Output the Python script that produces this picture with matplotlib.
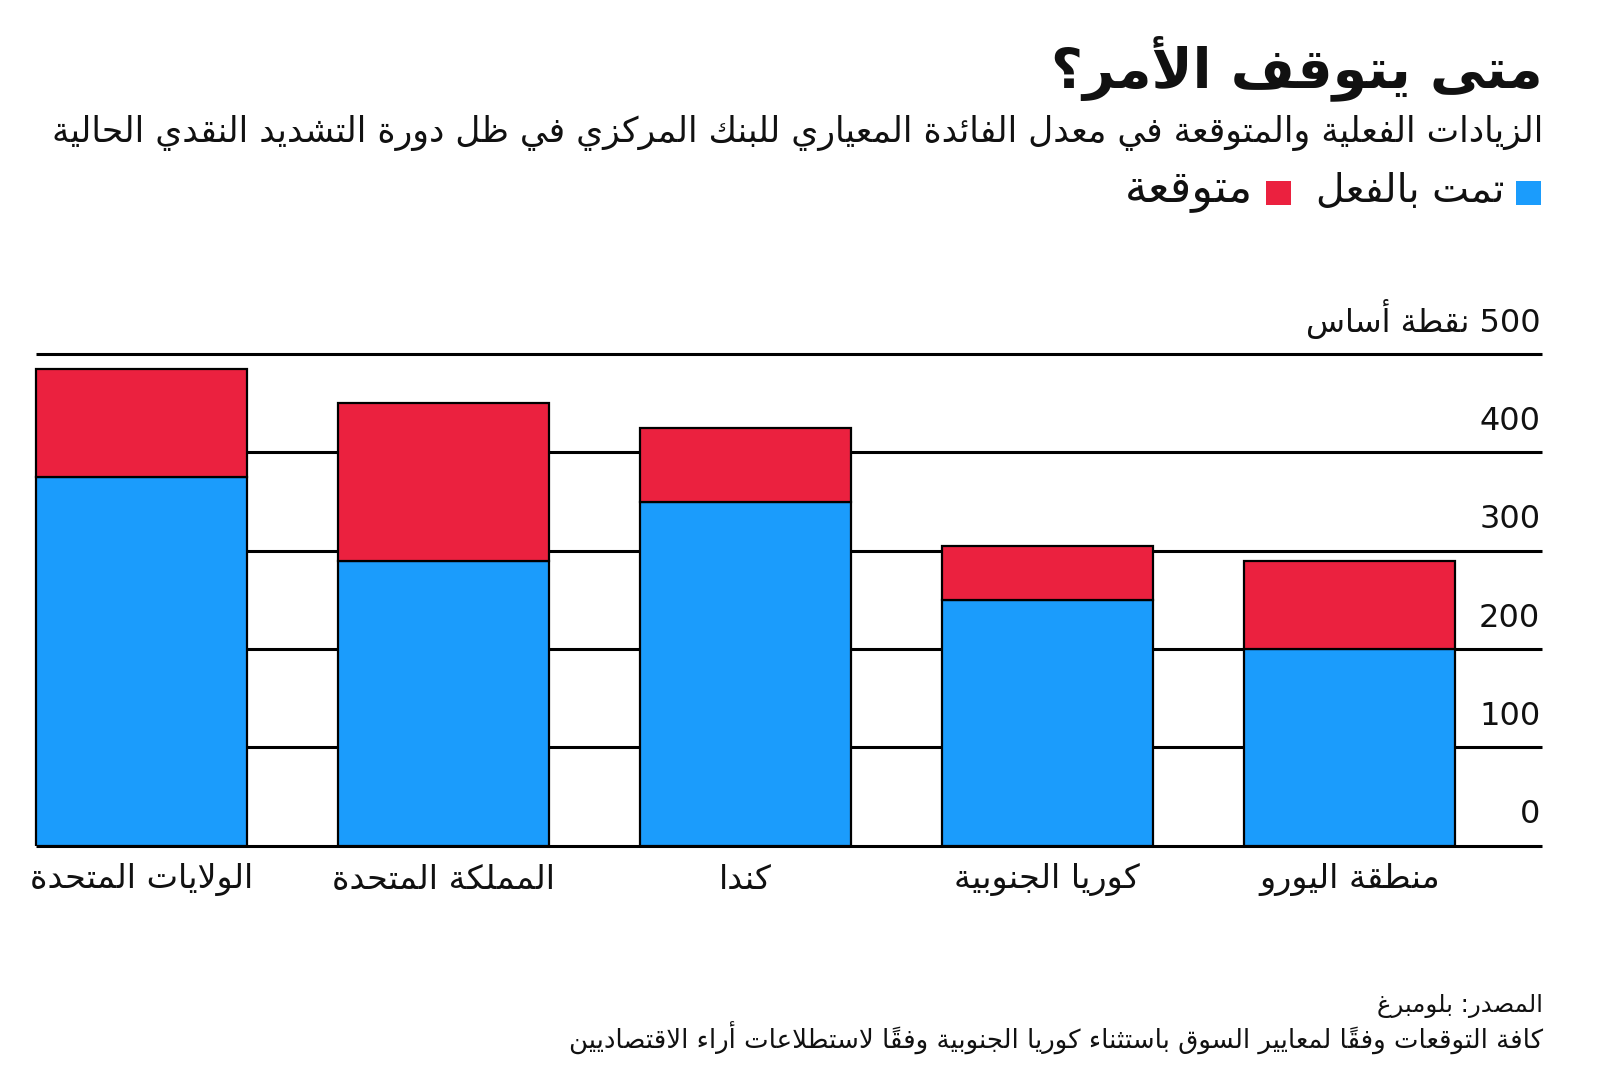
import matplotlib
matplotlib.use("Agg")
import matplotlib.pyplot as plt
from matplotlib.patches import Rectangle

# ---------------- data ----------------
categories = ["الولايات المتحدة", "المملكة المتحدة", "كندا", "كوريا الجنوبية", "منطقة اليورو"]
done_bp = [375, 290, 350, 250, 200]          # تمت بالفعل
expected_bp = [110, 160, 75, 55, 90]         # متوقعة (on top)
yticks = [0, 100, 200, 300, 400, 500]
ytick_labels = ["0", "100", "200", "300", "400", "500 نقطة أساس"]

title = "متى يتوقف الأمر؟"
subtitle = "الزيادات الفعلية والمتوقعة في معدل الفائدة المعياري للبنك المركزي في ظل دورة التشديد النقدي الحالية"
legend_done = "تمت بالفعل"
legend_expected = "متوقعة"
source = "المصدر: بلومبرغ"
note = "كافة التوقعات وفقاً لمعايير السوق باستثناء كوريا الجنوبية وفقاً لاستطلاعات أراء الاقتصاديين"

BLUE = "#1B9CFC"
RED = "#EB213F"

# ---------------- minimal Arabic shaping (presentation forms + RTL order) ----------------
_tbl = [("ء", 0xFE80, 1), ("آ", 0xFE81, 2), ("أ", 0xFE83, 2), ("ؤ", 0xFE85, 2), ("إ", 0xFE87, 2),
        ("ئ", 0xFE89, 4), ("ا", 0xFE8D, 2), ("ب", 0xFE8F, 4), ("ة", 0xFE93, 2), ("ت", 0xFE95, 4),
        ("ث", 0xFE99, 4), ("ج", 0xFE9D, 4), ("ح", 0xFEA1, 4), ("خ", 0xFEA5, 4), ("د", 0xFEA9, 2),
        ("ذ", 0xFEAB, 2), ("ر", 0xFEAD, 2), ("ز", 0xFEAF, 2), ("س", 0xFEB1, 4), ("ش", 0xFEB5, 4),
        ("ص", 0xFEB9, 4), ("ض", 0xFEBD, 4), ("ط", 0xFEC1, 4), ("ظ", 0xFEC5, 4), ("ع", 0xFEC9, 4),
        ("غ", 0xFECD, 4), ("ف", 0xFED1, 4), ("ق", 0xFED5, 4), ("ك", 0xFED9, 4), ("ل", 0xFEDD, 4),
        ("م", 0xFEE1, 4), ("ن", 0xFEE5, 4), ("ه", 0xFEE9, 4), ("و", 0xFEED, 2), ("ى", 0xFEEF, 2),
        ("ي", 0xFEF1, 4)]
FORMS = {c: [chr(s + k) for k in range(n)] for c, s, n in _tbl}
LAMALEF = {"آ": ["\uFEF5", "\uFEF6"], "أ": ["\uFEF7", "\uFEF8"],
           "إ": ["\uFEF9", "\uFEFA"], "ا": ["\uFEFB", "\uFEFC"]}
MARKS = set(chr(c) for c in range(0x064B, 0x0653))


def shape(text):
    toks = []
    i = 0
    while i < len(text):
        c = text[i]
        if c == "ل" and i + 1 < len(text) and text[i + 1] in LAMALEF:
            toks.append(("LA", text[i + 1]))
            i += 2
        else:
            toks.append(("C", c))
            i += 1

    def forms(tok):
        kind, c = tok
        if kind == "LA":
            return ["x", "x"]
        return FORMS.get(c)

    def dual(tok):
        f = forms(tok)
        return f is not None and len(f) == 4 and tok[0] == "C"

    def joinable(tok):
        f = forms(tok)
        return f is not None and len(f) >= 2

    out = []
    for j, tok in enumerate(toks):
        kind, c = tok
        if kind == "C" and (c in MARKS or c not in FORMS):
            out.append(c)
            continue
        k = j - 1
        while k >= 0 and toks[k][0] == "C" and toks[k][1] in MARKS:
            k -= 1
        jp = k >= 0 and dual(toks[k]) and joinable(tok)
        k = j + 1
        while k < len(toks) and toks[k][0] == "C" and toks[k][1] in MARKS:
            k += 1
        jn = k < len(toks) and dual(tok) and joinable(toks[k])
        if kind == "LA":
            out.append(LAMALEF[c][1 if jp else 0])
            continue
        f = FORMS[c]
        if jp and jn:
            out.append(f[3])
        elif jp:
            out.append(f[1])
        elif jn:
            out.append(f[2])
        else:
            out.append(f[0])
    clusters = []
    for ch in out:
        if ch in MARKS and clusters:
            clusters[-1] += ch
        elif ch.isdigit() and clusters and clusters[-1][-1].isdigit():
            clusters[-1] += ch
        else:
            clusters.append(ch)
    return "".join(reversed(clusters))


# ---------------- figure ----------------
W, H = 1600, 1074
fig = plt.figure(figsize=(W / 100, H / 100), dpi=100)
fig.patch.set_facecolor("white")
plt.rcParams["font.family"] = ["DejaVu Sans"]

ax_l, ax_r = 34.0 / W, 1541.7 / W
ax_b, ax_t = 1 - 845.7 / H, 1 - 354.0 / H
ax = fig.add_axes([ax_l, ax_b, ax_r - ax_l, ax_t - ax_b])
x = list(range(len(categories)))
ax.set_xlim(-0.355, 4.637)
ax.set_ylim(0, 500)
for s in ax.spines.values():
    s.set_visible(False)
ax.set_xticks([])
ax.set_yticks([])
ax.patch.set_alpha(0)

ax.hlines(yticks, -0.349, 4.637, colors="black", lw=2.2, zorder=1, clip_on=False)

ax.bar(x, done_bp, width=0.7, color=BLUE, edgecolor="black", linewidth=1.6, zorder=3)
ax.bar(x, expected_bp, bottom=done_bp, width=0.7, color=RED, edgecolor="black", linewidth=1.6, zorder=3)

ytr = ax.get_yaxis_transform()
for v, lab in zip(yticks, ytick_labels):
    ax.annotate(shape(lab), xy=(1.0, v), xycoords=ytr, xytext=(-1, 11), textcoords="offset points",
                ha="right", va="bottom", fontsize=23, color="#111111")

for xi, lab in zip(x, categories):
    ax.annotate(shape(lab), xy=(xi, 0), xycoords="data", xytext=(0, -24), textcoords="offset points",
                ha="center", va="center", fontsize=24, color="#111111")

renderer = fig.canvas.get_renderer()


def ftext(xr, yc, s, size, target_w=None, **kw):
    t = fig.text(xr / W, 1 - yc / H, shape(s), ha="right", va="center", fontsize=size, color="#111111", **kw)
    if target_w:
        bb = t.get_window_extent(renderer)
        t.set_fontsize(size * target_w / bb.width)
    return t


ftext(1543, 68, title, 40, target_w=492, fontweight="bold")
ftext(1543, 133, subtitle, 22, target_w=1494)

# legend
fig.add_artist(Rectangle((1516 / W, 1 - 205 / H), 25 / W, 24 / H, transform=fig.transFigure,
                         facecolor=BLUE, edgecolor="none"))
ftext(1504, 191, legend_done, 22, target_w=188)
fig.add_artist(Rectangle((1266 / W, 1 - 205 / H), 25 / W, 24 / H, transform=fig.transFigure,
                         facecolor=RED, edgecolor="none"))
ftext(1253, 191, legend_expected, 22, target_w=128)

ftext(1543, 1006, source, 17, target_w=166)
ftext(1543, 1038, note, 17, target_w=972)

fig.savefig("out.png", dpi=100, facecolor="white")
